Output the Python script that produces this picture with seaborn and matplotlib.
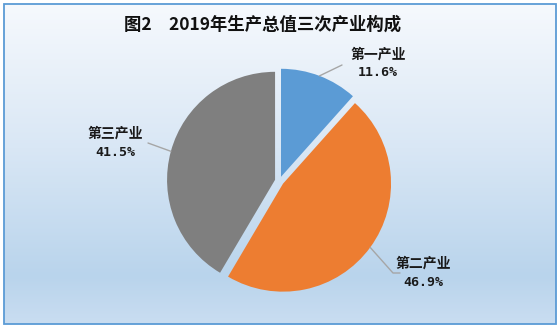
import numpy as np
import matplotlib
matplotlib.use("Agg")
import matplotlib.pyplot as plt
from matplotlib.colors import LinearSegmentedColormap
from matplotlib.patches import Rectangle
import seaborn as sns

# ---- data ----
categories = ["第一产业", "第二产业", "第三产业"]
shares = [11.6, 46.9, 41.5]
colors = ["#5B9BD5", "#ED7D31", "#7F7F7F"]
title = "图2　2019年生产总值三次产业构成"

sns.set_theme(style="white")
plt.rcParams['font.family'] = ['Noto Sans CJK SC', 'DejaVu Sans']

W, H = 560, 328
fig = plt.figure(figsize=(W / 100, H / 100), dpi=100)
fig.patch.set_facecolor("white")
ax = fig.add_axes([0, 0, 1, 1])
ax.set_xlim(0, W)
ax.set_ylim(0, H)
ax.set_aspect("equal")
ax.axis("off")

def Y(py):
    return H - py

# background gradient inside border
cmap = LinearSegmentedColormap.from_list(
    "bg", [(0.0, "#F6F9FD"), (0.45, "#D9E7F5"), (0.85, "#B9D4EC"), (1.0, "#C9DDF1")])
grad = np.linspace(0, 1, 256).reshape(-1, 1)
ax.imshow(grad, cmap=cmap, extent=(4, 556, Y(324), Y(4)), aspect="auto",
          origin="upper", zorder=0)
ax.add_patch(Rectangle((4, Y(324)), 552, 320, fill=False, edgecolor="#5B9BD5",
                       linewidth=1.3, zorder=5))

# pie (explode offsets in pixel units since data units are pixels)
cx, cy, R = 279.4, 181, 108
explode = [4.5, 4.5, 4.5]
wedges, _ = ax.pie(shares, colors=colors, startangle=90, counterclock=False,
                   center=(cx, Y(cy)), radius=R, explode=explode,
                   wedgeprops=dict(linewidth=0), frame=True)
ax.set_xlim(0, W)
ax.set_ylim(0, H)
ax.axis("off")

# labels with leader lines (layout positions in pixels)
elbows = [[(342, 65)], [(393, 273), (400, 273)], [(148, 143)]]
label_pos = [(378, 55), (423, 264), (115, 134)]
for w, val, name, elb, (lx, ly) in zip(wedges, shares, categories, elbows, label_pos):
    mid = np.deg2rad((w.theta1 + w.theta2) / 2)
    wx, wy = w.center
    sx, sy = wx + w.r * np.cos(mid), wy + w.r * np.sin(mid)
    xs = [sx] + [e[0] for e in elb]
    ys = [sy] + [Y(e[1]) for e in elb]
    ax.plot(xs, ys, color="#A6A6A6", lw=1.0, zorder=3)
    ax.text(lx, Y(ly), name, ha="center", va="center", fontsize=10,
            fontweight="bold", color="#1a1a1a", zorder=4)
    ax.text(lx, Y(ly + 18), f"{val:.1f}%", ha="center", va="center", fontsize=9.5,
            fontweight="bold", family=["DejaVu Sans Mono"], color="#1a1a1a", zorder=4)

ax.text(263, Y(25), title, ha="center", va="center", fontsize=12.5,
        fontweight="bold", color="#111111", zorder=4)

fig.savefig("out.png", dpi=100)
